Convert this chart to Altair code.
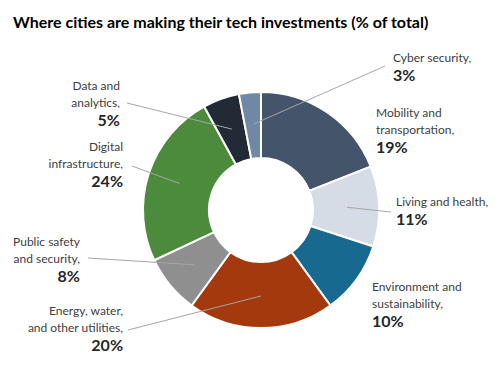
import altair as alt
import pandas as pd

# ---- data ----
categories = [
    "Mobility and transportation",
    "Living and health",
    "Environment and sustainability",
    "Energy, water, and other utilities",
    "Public safety and security",
    "Digital infrastructure",
    "Data and analytics",
    "Cyber security",
]
values = [19, 11, 10, 20, 8, 24, 5, 3]
label_lines = [
    ["Mobility and", "transportation,"],
    ["Living and health,"],
    ["Environment and", "sustainability,"],
    ["Energy, water,", "and other utilities,"],
    ["Public safety", "and security,"],
    ["Digital", "infrastructure,"],
    ["Data and", "analytics,"],
    ["Cyber security,"],
]
title_text = "Where cities are making their tech investments (% of total)"

# ---- style / layout ----
colors = ["#44546a", "#d6dce5", "#17698f", "#a3390c", "#8f8f8f", "#4b8b3b", "#222a35", "#6f88a6"]
M = 8  # page margin
CX, CY = 261 - M, 210 - M
R_OUT, R_IN, R_LEAD = 118, 52, 86
label_x = [376, 396, 372, 123, 80, 123, 120, 393]
label_y = [113, 202, 287, 311, 242, 147, 86, 58]
label_align = ["left", "left", "left", "right", "right", "right", "right", "left"]
leader_end = [None, (391, 212), None, (128, 330), (88, 258), (132, 166), (127, 103), (385, 66)]
FONT = "Lato"
LINE_GAP, PCT_GAP = 17, 18

df = pd.DataFrame({"category": categories, "value": values, "order": list(range(len(values)))})

base = alt.Chart(df)
arcs = base.mark_arc(outerRadius=R_OUT, innerRadius=R_IN, stroke="white", strokeWidth=2).encode(
    theta=alt.Theta("value:Q", stack=True),
    order=alt.Order("order:Q"),
    color=alt.Color("category:N", scale=alt.Scale(domain=categories, range=colors), legend=None),
    x=alt.value(CX),
    y=alt.value(CY),
)

# leader lines: inner end computed from data (slice mid-angle)
lead_rows = []
for c, e in zip(categories, leader_end):
    if e is not None:
        lead_rows.append({"category": c, "ex": e[0] - M, "ey": e[1] - M})
lead_df = df.merge(pd.DataFrame(lead_rows), on="category", how="left")
leaders = (
    alt.Chart(lead_df)
    .transform_joinaggregate(total="sum(value)")
    .transform_window(cum="sum(value)", sort=[alt.SortField("order")], frame=[None, 0])
    .transform_calculate(mid="(datum.cum - datum.value/2) / datum.total * 2 * PI")
    .transform_calculate(
        ix=f"{CX} + {R_LEAD} * sin(datum.mid)",
        iy=f"{CY} - {R_LEAD} * cos(datum.mid)",
    )
    .transform_filter("isValid(datum.ex)")
    .mark_rule(color="#a6a6a6", strokeWidth=1)
    .encode(
        x=alt.X("ix:Q", scale=None, axis=None),
        y=alt.Y("iy:Q", scale=None, axis=None),
        x2="ex:Q",
        y2="ey:Q",
    )
)

rows = []
for i, c in enumerate(categories):
    y = label_y[i]
    for j, t in enumerate(label_lines[i]):
        rows.append({"t": t, "x": label_x[i] - M, "y": y - M, "align": label_align[i], "kind": "name"})
        if j < len(label_lines[i]) - 1:
            y += LINE_GAP
    y += PCT_GAP
    rows.append({"t": f"{values[i]}%", "x": label_x[i] - M, "y": y - M, "align": label_align[i], "kind": "pct"})
tdf = pd.DataFrame(rows)

def text_layer(kind, align, **kw):
    return (
        alt.Chart(tdf)
        .transform_filter(f"datum.kind == '{kind}' && datum.align == '{align}'")
        .mark_text(align=align, baseline="middle", font=FONT, **kw)
        .encode(x=alt.X("x:Q", scale=None, axis=None), y=alt.Y("y:Q", scale=None, axis=None), text="t:N")
    )

names_l = text_layer("name", "left", fontSize=12, color="#404040")
names_r = text_layer("name", "right", fontSize=12, color="#404040")
pct_l = text_layer("pct", "left", fontSize=16, fontWeight="bold", color="#262626")
pct_r = text_layer("pct", "right", fontSize=16, fontWeight="bold", color="#262626")

title = (
    alt.Chart(pd.DataFrame({"t": [title_text]}))
    .mark_text(align="left", baseline="middle", font=FONT, fontSize=16, fontWeight="bold", color="#000000")
    .encode(x=alt.value(13 - M), y=alt.value(23 - M), text="t:N")
)

chart = (
    alt.layer(arcs, leaders, names_l, names_r, pct_l, pct_r, title)
    .properties(width=484, height=353, autosize=alt.AutoSizeParams(type="none"), padding=0)
    .configure_view(stroke=None)
    .configure_axis(disable=True)
)

chart.save("out.html", embed_options={"renderer": "svg", "actions": False})
